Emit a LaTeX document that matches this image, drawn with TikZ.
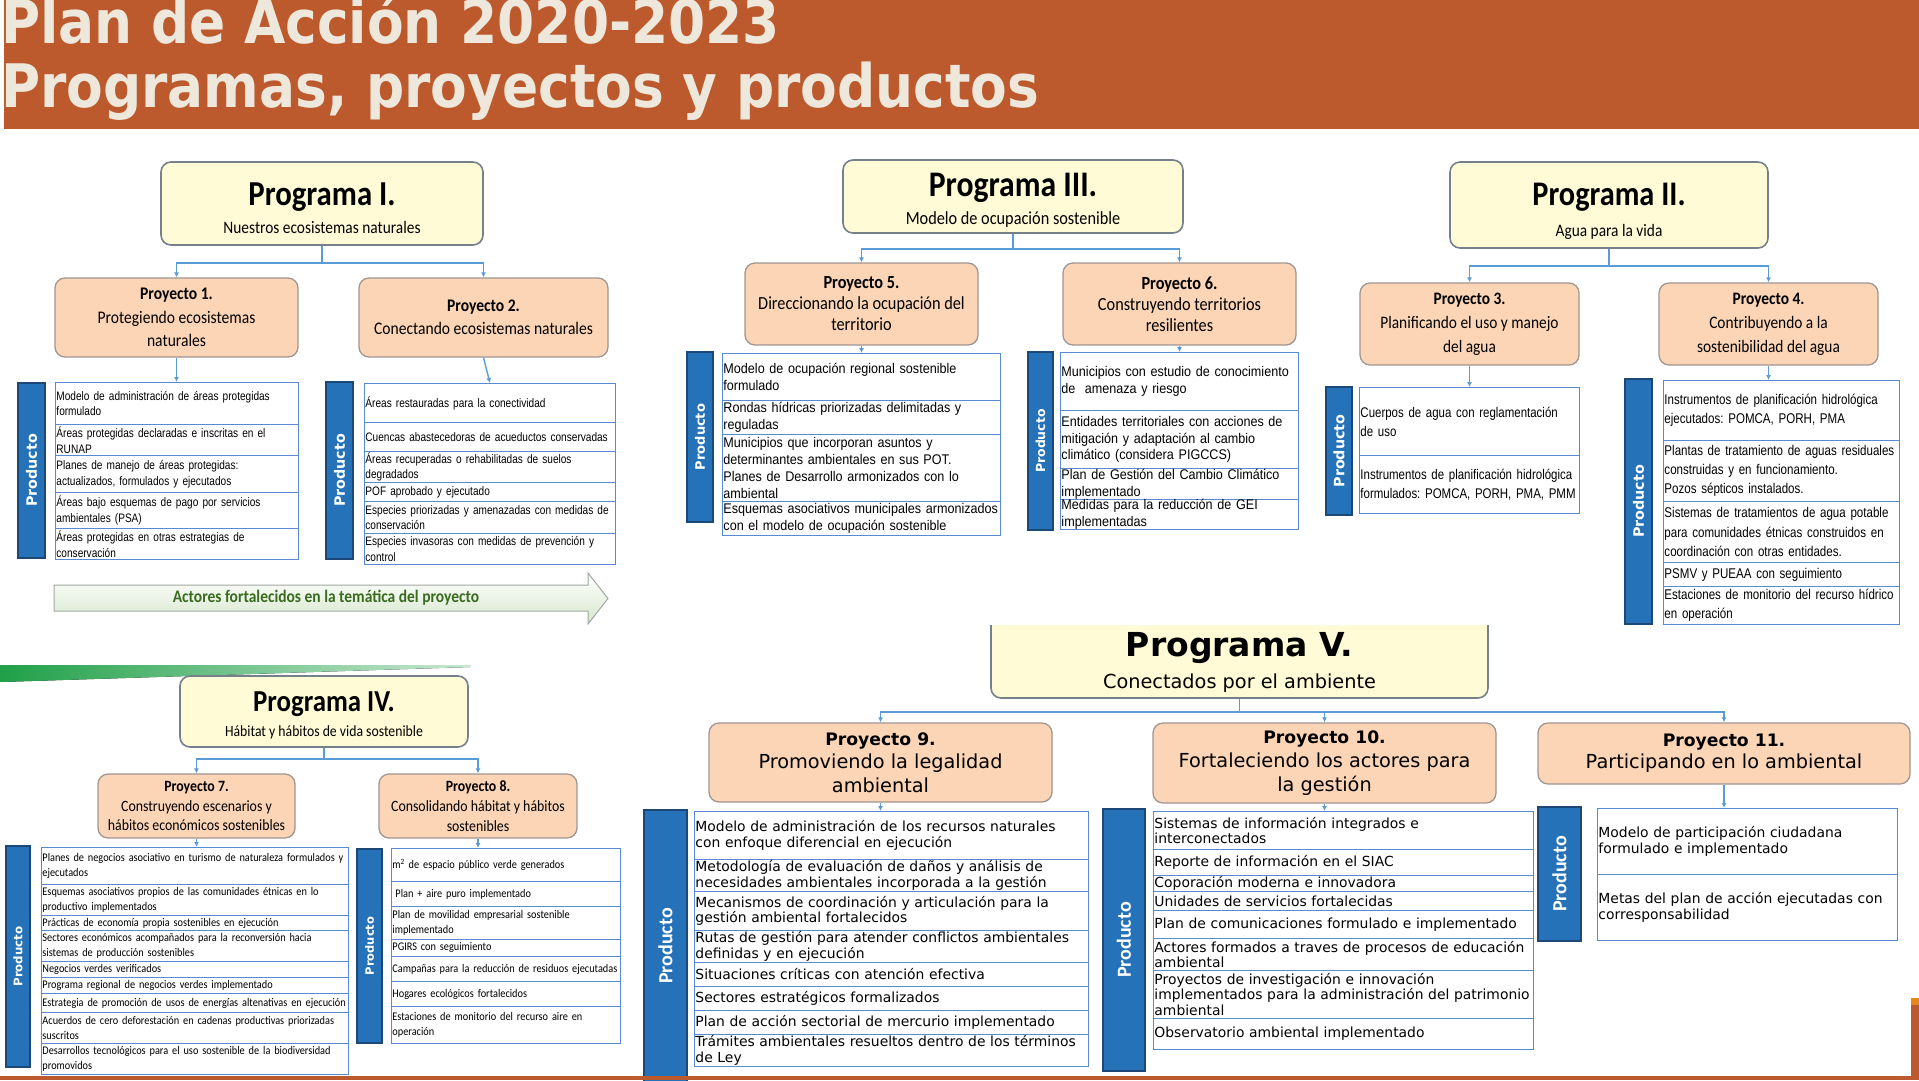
\documentclass[tikz,border=0pt]{standalone}
\usepackage{fontspec}
\usepackage{tikz}
\usetikzlibrary{arrows.meta, positioning}
\definecolor{headerbrown}{RGB}{188,89,45}
\definecolor{headertext}{RGB}{238,232,220}
\definecolor{progfill}{RGB}{255,251,214}
\definecolor{progline}{RGB}{118,128,138}
\definecolor{proyfill}{RGB}{251,213,182}
\definecolor{proyline}{RGB}{160,150,145}
\definecolor{connblue}{RGB}{91,155,213}
\definecolor{rowline}{RGB}{88,138,212}
\definecolor{barblue}{RGB}{38,114,184}
\definecolor{barline}{RGB}{28,72,120}
\definecolor{bannergreen}{RGB}{214,231,204}
\definecolor{bannerline}{RGB}{160,168,160}
\definecolor{bannertext}{RGB}{58,108,32}
\definecolor{wedgegreen}{RGB}{32,160,72}
\definecolor{barorange}{RGB}{230,135,30}
\newfontfamily\titlefont{DejaVu Sans}[FakeStretch=0.89]
\newfontfamily\calib{Carlito}[FakeStretch=0.88]
\newfontfamily\calibw{Carlito}
\newfontfamily\narrowf{Liberation Sans}[FakeStretch=0.82, WordSpace=0.85]
\newfontfamily\arialf{Liberation Sans}[FakeStretch=0.9]
\newfontfamily\verdf{DejaVu Sans}

\begin{document}
\frenchspacing
\begin{tikzpicture}[x=1pt, y=-1pt,
    progbox/.style={draw=progline, line width=1.6pt, fill=progfill, rounded corners=10pt, inner sep=0pt},
    proybox/.style={draw=proyline, line width=1.3pt, fill=proyfill, rounded corners=10pt, align=center, inner sep=0pt},
    prodbar/.style={draw=barline, line width=1.2pt, fill=barblue, text=white, rotate=90, inner sep=0pt, font=\verdf\bfseries\fontsize{14.3}{16}\selectfont},
    prod/.style={draw=rowline, line width=0.9pt, anchor=north west, inner xsep=1pt, inner ysep=0pt, align=left},
    t1/.style={prod, text width=241pt, font=\narrowf\fontsize{12.3}{15.7}\selectfont},
    t2/.style={prod, text width=249pt, font=\narrowf\fontsize{12.3}{15.7}\selectfont},
    t3/.style={prod, text width=218pt, font=\narrowf\fontsize{14}{19}\selectfont},
    t4/.style={prod, text width=234pt, font=\narrowf\fontsize{14.1}{19.3}\selectfont},
    t5/.style={prod, text width=276pt, font=\arialf\fontsize{14}{16.7}\selectfont},
    t6/.style={prod, text width=236pt, font=\arialf\fontsize{14}{16.7}\selectfont},
    t7/.style={prod, text width=305pt, font=\calib\fontsize{11.7}{15}\selectfont},
    t8/.style={prod, text width=227pt, font=\calib\fontsize{11.7}{15}\selectfont},
    t9/.style={prod, text width=392pt, font=\verdf\fontsize{13.9}{15.7}\selectfont},
    t10/.style={prod, text width=378pt, font=\verdf\fontsize{13.9}{15.7}\selectfont},
    t11/.style={prod, text width=298pt, font=\verdf\fontsize{13.9}{15.7}\selectfont},
    conn/.style={draw=connblue, line width=1.4pt},
    arr/.style={conn, -{Latex[length=5pt, width=5pt]}}]
\useasboundingbox (0,0) rectangle (1919,1080);

% header
\fill[headerbrown] (4,0) rectangle (1919,128.5);
\node[anchor=base west, inner sep=0pt, text=headertext, font=\titlefont\bfseries\fontsize{60}{60}\selectfont] (title1) at (1,43) {Plan de Acción 2020-2023};
\node[anchor=base west, inner sep=0pt, text=headertext, font=\titlefont\bfseries\fontsize{60}{60}\selectfont] (title2) at (1,107.7) {Programas, proyectos y productos};

% Programa I
\node[progbox, minimum width=322pt, minimum height=83pt] (prog1) at (322,203.5) {};
\node[anchor=base, inner sep=0pt, font=\calib\bfseries\fontsize{35}{35}\selectfont] (prog1t) at (322,205) {Programa I.};
\node[anchor=base, inner sep=0pt, font=\calib\fontsize{17.5}{20}\selectfont] (prog1s) at (322,233) {Nuestros ecosistemas naturales};
\node[proybox, minimum width=243pt, minimum height=79pt, font=\calib\fontsize{17.7}{23.3}\selectfont] (proy1) at (176.5,317.5) {\textbf{Proyecto 1.}\\Protegiendo ecosistemas\\naturales};
\node[proybox, minimum width=249pt, minimum height=79pt, font=\calib\fontsize{17.7}{23.3}\selectfont] (proy2) at (483.5,317.5) {\textbf{Proyecto 2.}\\Conectando ecosistemas naturales};
\node[prodbar, minimum width=175pt, minimum height=27pt] (bar1) at (31.5,470.5) {Producto};
\node[t1, minimum height=42pt] (p1a) at (55,382) {Modelo de administración de áreas protegidas\\formulado};
\node[t1, minimum height=31pt] (p1b) at (55,424) {Áreas protegidas declaradas e inscritas en el\\RUNAP};
\node[t1, minimum height=37pt] (p1c) at (55,455) {Planes de manejo de áreas protegidas:\\actualizados, formulados y ejecutados};
\node[t1, minimum height=36pt] (p1d) at (55,492) {Áreas bajo esquemas de pago por servicios\\ambientales (PSA)};
\node[t1, minimum height=31pt] (p1e) at (55,528) {Áreas protegidas en otras estrategias de\\conservación};
\node[prodbar, minimum width=177pt, minimum height=27pt] (bar2) at (339.5,470.5) {Producto};
\node[t2, minimum height=39pt] (p2a) at (364,383) {Áreas restauradas para la conectividad};
\node[t2, minimum height=29pt] (p2b) at (364,422) {Cuencas abastecedoras de acueductos conservadas};
\node[t2, minimum height=31pt] (p2c) at (364,451) {Áreas recuperadas o rehabilitadas de suelos\\degradados};
\node[t2, minimum height=19pt] (p2d) at (364,482) {POF aprobado y ejecutado};
\node[t2, minimum height=32pt] (p2e) at (364,501) {Especies priorizadas y amenazadas con medidas de\\conservación};
\node[t2, minimum height=31pt] (p2f) at (364,533) {Especies invasoras con medidas de prevención y\\control};
\draw[conn] (prog1.south) -- ++(0,17) coordinate (j1);
\draw[arr] (j1) -| (proy1.north);
\draw[arr] (j1) -| (proy2.north);
\draw[arr] (proy1.south) -- (proy1.south |- p1a.north);
\draw[arr] (proy2.south) -- (p2a.north);
\draw[draw=bannerline, line width=1pt, top color=white, bottom color=bannergreen] (54,585) -- (588,585) -- (588,573) -- (608,598.5) -- (588,624) -- (588,611) -- (54,611) -- cycle;
\node[inner sep=0pt, text=bannertext, font=\calib\bfseries\fontsize{17.6}{20}\selectfont] (actores) at (326,598) {Actores fortalecidos en la temática del proyecto};

% Programa III
\node[progbox, minimum width=340pt, minimum height=73pt] (prog3) at (1013,196.5) {};
\node[anchor=base, inner sep=0pt, font=\calib\bfseries\fontsize{36}{36}\selectfont] (prog3t) at (1013,196.7) {Programa III.};
\node[anchor=base, inner sep=0pt, font=\calib\fontsize{18.5}{20}\selectfont] (prog3s) at (1013,224) {Modelo de ocupación sostenible};
\node[proybox, minimum width=233pt, minimum height=82pt, font=\calib\fontsize{18.5}{21}\selectfont] (proy5) at (861.5,304) {\textbf{Proyecto 5.}\\Direccionando la ocupación del\\territorio};
\node[proybox, minimum width=233pt, minimum height=82pt, font=\calib\fontsize{18.5}{21}\selectfont] (proy6) at (1179.5,304) {\textbf{Proyecto 6.}\\Construyendo territorios\\resilientes};
\node[prodbar, minimum width=170pt, minimum height=26pt, font=\verdf\bfseries\fontsize{13}{15}\selectfont] (bar3) at (700,437) {Producto};
\node[t5, minimum height=47pt] (p5a) at (722,353) {Modelo de ocupación regional sostenible\\formulado};
\node[t5, minimum height=34pt] (p5b) at (722,400) {Rondas hídricas priorizadas delimitadas y\\reguladas};
\node[t5, minimum height=67pt] (p5c) at (722,434) {Municipios que incorporan asuntos y\\determinantes ambientales en sus POT.\\Planes de Desarrollo armonizados con lo\\ambiental};
\node[t5, minimum height=34pt] (p5d) at (722,501) {Esquemas asociativos municipales armonizados\\con el modelo de ocupación sostenible};
\node[prodbar, minimum width=178pt, minimum height=25pt, font=\verdf\bfseries\fontsize{12.5}{15}\selectfont] (bar4) at (1040.5,441) {Producto};
\node[t6, minimum height=58pt] (p6a) at (1060,352) {Municipios con estudio de conocimiento\\de\ \ amenaza y riesgo};
\node[t6, minimum height=58pt] (p6b) at (1060,410) {Entidades territoriales con acciones de\\mitigación y adaptación al cambio\\climático (considera PIGCCS)};
\node[t6, minimum height=31pt] (p6c) at (1060,468) {Plan de Gestión del Cambio Climático\\implementado};
\node[t6, minimum height=29pt] (p6d) at (1060,499) {Medidas para la reducción de GEI\\implementadas};
\draw[conn] (prog3.south) -- ++(0,15) coordinate (j3);
\draw[arr] (j3) -| (proy5.north);
\draw[arr] (j3) -| (proy6.north);
\draw[arr] (proy5.south) -- (proy5.south |- p5a.north);
\draw[arr] (proy6.south) -- (proy6.south |- p6a.north);

% Programa II
\node[progbox, minimum width=318pt, minimum height=86pt] (prog2) at (1609,205) {};
\node[anchor=base, inner sep=0pt, font=\calib\bfseries\fontsize{34.5}{35}\selectfont] (prog2t) at (1609,205) {Programa II.};
\node[anchor=base, inner sep=0pt, font=\calib\fontsize{17.5}{20}\selectfont] (prog2s) at (1609,236) {Agua para la vida};
\node[proybox, minimum width=219pt, minimum height=82pt, font=\calib\fontsize{17.5}{24}\selectfont] (proy3) at (1469.5,324) {\textbf{Proyecto 3.}\\Planificando el uso y manejo\\del agua};
\node[proybox, minimum width=219pt, minimum height=82pt, font=\calib\fontsize{17.5}{24}\selectfont] (proy4) at (1768.5,324) {\textbf{Proyecto 4.}\\Contribuyendo a la\\sostenibilidad del agua};
\node[prodbar, minimum width=128pt, minimum height=26pt] (bar5) at (1339,451) {Producto};
\node[t3, minimum height=68pt] (p3a) at (1359,387) {Cuerpos de agua con reglamentación\\de uso};
\node[t3, minimum height=58pt] (p3b) at (1359,455) {Instrumentos de planificación hidrológica\\formulados: POMCA, PORH, PMA, PMM};
\node[prodbar, minimum width=245pt, minimum height=27pt] (bar6) at (1638.5,501.5) {Producto};
\node[t4, minimum height=60pt] (p4a) at (1663,380) {Instrumentos de planificación hidrológica\\ejecutados: POMCA, PORH, PMA};
\node[t4, minimum height=61pt] (p4b) at (1663,440) {Plantas de tratamiento de aguas residuales\\construidas y en funcionamiento.\\Pozos sépticos instalados.};
\node[t4, minimum height=61pt] (p4c) at (1663,501) {Sistemas de tratamientos de agua potable\\para comunidades étnicas construidos en\\coordinación con otras entidades.};
\node[t4, minimum height=24pt] (p4d) at (1663,562) {PSMV y PUEAA con seguimiento};
\node[t4, minimum height=38pt] (p4e) at (1663,586) {Estaciones de monitorio del recurso hídrico\\en operación};
\draw[conn] (prog2.south) -- ++(0,17) coordinate (j2);
\draw[arr] (j2) -| (proy3.north);
\draw[arr] (j2) -| (proy4.north);
\draw[arr] (proy3.south) -- (proy3.south |- p3a.north);
\draw[arr] (proy4.south) -- (proy4.south |- p4a.north);

% Programa IV
\fill[left color=wedgegreen, right color=wedgegreen!25!white] (0,665) -- (470,665) -- (470,667) -- (0,682) -- cycle;
\node[progbox, minimum width=288pt, minimum height=71pt] (prog4) at (324,711.5) {};
\node[anchor=base, inner sep=0pt, font=\calib\bfseries\fontsize{30.5}{31}\selectfont] (prog4t) at (324,711.7) {Programa IV.};
\node[anchor=base, inner sep=0pt, font=\calib\fontsize{15.6}{18}\selectfont] (prog4s) at (324,736) {Hábitat y hábitos de vida sostenible};
\node[proybox, minimum width=197pt, minimum height=64pt, font=\calib\fontsize{15.7}{19.7}\selectfont] (proy7) at (196.5,806) {\textbf{Proyecto 7.}\\Construyendo escenarios y\\hábitos económicos sostenibles};
\node[proybox, minimum width=198pt, minimum height=64pt, font=\calib\fontsize{15.7}{19.7}\selectfont] (proy8) at (478,806) {\textbf{Proyecto 8.}\\Consolidando hábitat y hábitos\\sostenibles};
\node[prodbar, minimum width=221pt, minimum height=24pt, font=\verdf\bfseries\fontsize{11.8}{14}\selectfont] (bar7) at (18,956.5) {Producto};
\node[t7, minimum height=37pt] (p7a) at (41,847) {Planes de negocios asociativo en turismo de naturaleza formulados y\\ejecutados};
\node[t7, minimum height=31pt] (p7b) at (41,884) {Esquemas asociativos propios de las comunidades étnicas en lo\\productivo implementados};
\node[t7, minimum height=15pt] (p7c) at (41,915) {Prácticas de economía propia sostenibles en ejecución};
\node[t7, minimum height=31pt] (p7d) at (41,930) {Sectores económicos acompañados para la reconversión hacia\\sistemas de producción sostenibles};
\node[t7, minimum height=16pt] (p7e) at (41,961) {Negocios verdes verificados};
\node[t7, minimum height=16pt] (p7f) at (41,977) {Programa regional de negocios verdes implementado};
\node[t7, minimum height=19pt] (p7g) at (41,993) {Estrategia de promoción de usos de energías altenativas en ejecución};
\node[t7, minimum height=31pt] (p7h) at (41,1012) {Acuerdos de cero deforestación en cadenas productivas priorizadas\\suscritos};
\node[t7, minimum height=31pt] (p7i) at (41,1043) {Desarrollos tecnológicos para el uso sostenible de la biodiversidad\\promovidos};
\node[prodbar, minimum width=194pt, minimum height=25pt, font=\verdf\bfseries\fontsize{11.5}{14}\selectfont] (bar8) at (369.5,946) {Producto};
\node[t8, minimum height=33pt] (p8a) at (391,848) {m\textsuperscript{2} de espacio público verde generados};
\node[t8, minimum height=25pt] (p8b) at (391,881) {\hspace*{3pt}Plan + aire puro implementado};
\node[t8, minimum height=33pt] (p8c) at (391,906) {Plan de movilidad empresarial sostenible\\implementado};
\node[t8, minimum height=17pt] (p8d) at (391,939) {PGIRS con seguimiento};
\node[t8, minimum height=25pt] (p8e) at (391,956) {Campañas para la reducción de residuos ejecutadas};
\node[t8, minimum height=25pt] (p8f) at (391,981) {Hogares ecológicos fortalecidos};
\node[t8, minimum height=37pt] (p8g) at (391,1006) {Estaciones de monitorio del recurso aire en\\operación};
\draw[conn] (prog4.south) -- ++(0,11) coordinate (j4);
\draw[arr] (j4) -| (proy7.north);
\draw[arr] (j4) -| (proy8.north);
\draw[arr] (proy7.south) -- (proy7.south |- p7a.north);
\draw[arr] (proy8.south) -- (proy8.south |- p8a.north);

% Programa V
\begin{scope}
  \clip (900,625) rectangle (1600,720);
  \node[progbox, minimum width=497pt, minimum height=98pt] (prog5) at (1239.5,649) {};
\end{scope}
\node[anchor=base, inner sep=0pt, font=\verdf\bfseries\fontsize{33}{33}\selectfont] (prog5t) at (1239.5,656.7) {Programa V.};
\node[anchor=base, inner sep=0pt, font=\verdf\fontsize{19.3}{22}\selectfont] (prog5s) at (1239.5,688.3) {Conectados por el ambiente};
\node[proybox, minimum width=343pt, minimum height=79pt, font=\verdf\fontsize{19.3}{23.7}\selectfont] (proy9) at (880.5,762.5) {{\fontsize{17.2}{23.7}\selectfont\bfseries Proyecto 9.}\\Promoviendo la legalidad\\ambiental};
\node[proybox, minimum width=343pt, minimum height=80pt, font=\verdf\fontsize{19.3}{23.7}\selectfont] (proy10) at (1324.5,763) {{\fontsize{17.2}{23.7}\selectfont\bfseries Proyecto 10.}\\Fortaleciendo los actores para\\la gestión};
\node[proybox, minimum width=372pt, minimum height=61pt, font=\verdf\fontsize{19.3}{22.4}\selectfont] (proy11) at (1724,753.5) {{\fontsize{17.2}{22.4}\selectfont\bfseries Proyecto 11.}\\Participando en lo ambiental};
\node[prodbar, minimum width=272pt, minimum height=43pt, font=\calibw\bfseries\fontsize{20}{22}\selectfont] (bar9) at (665.5,946) {Producto};
\node[t9, minimum height=48pt] (p9a) at (694,811) {Modelo de administración de los recursos naturales\\con enfoque diferencial en ejecución};
\node[t9, minimum height=32pt] (p9b) at (694,859) {Metodología de evaluación de daños y análisis de\\necesidades ambientales incorporada a la gestión};
\node[t9, minimum height=39pt] (p9c) at (694,891) {Mecanismos de coordinación y articulación para la\\gestión ambiental fortalecidos};
\node[t9, minimum height=32pt] (p9d) at (694,930) {Rutas de gestión para atender conflictos ambientales\\definidas y en ejecución};
\node[t9, minimum height=24pt] (p9e) at (694,962) {Situaciones críticas con atención efectiva};
\node[t9, minimum height=24pt] (p9f) at (694,986) {Sectores estratégicos formalizados};
\node[t9, minimum height=24pt] (p9g) at (694,1010) {Plan de acción sectorial de mercurio implementado};
\node[t9, minimum height=32pt] (p9h) at (694,1034) {Trámites ambientales resueltos dentro de los términos\\de Ley};
\node[prodbar, minimum width=262pt, minimum height=42pt, font=\calibw\bfseries\fontsize{20}{22}\selectfont] (bar10) at (1124,940) {Producto};
\node[t10, minimum height=38pt] (p10a) at (1153,811) {Sistemas de información integrados e\\interconectados};
\node[t10, minimum height=26pt] (p10b) at (1153,849) {Reporte de información en el SIAC};
\node[t10, minimum height=16pt] (p10c) at (1153,875) {Coporación moderna e innovadora};
\node[t10, minimum height=19pt] (p10d) at (1153,891) {Unidades de servicios fortalecidas};
\node[t10, minimum height=28pt] (p10e) at (1153,910) {Plan de comunicaciones formulado e implementado};
\node[t10, minimum height=32pt] (p10f) at (1153,938) {Actores formados a traves de procesos de educación\\ambiental};
\node[t10, minimum height=48pt] (p10g) at (1153,970) {Proyectos de investigación e innovación\\implementados para la administración del patrimonio\\ambiental};
\node[t10, minimum height=31pt] (p10h) at (1153,1018) {Observatorio ambiental implementado};
\node[prodbar, minimum width=134pt, minimum height=43pt, font=\calibw\bfseries\fontsize{20}{22}\selectfont] (bar11) at (1559.5,874) {Producto};
\node[t11, minimum height=66pt] (p11a) at (1597,808) {Modelo de participación ciudadana\\formulado e implementado};
\node[t11, minimum height=66pt] (p11b) at (1597,874) {Metas del plan de acción ejecutadas con\\corresponsabilidad};
\draw[conn] (prog5.south) -- ++(0,13) coordinate (j5);
\draw[arr] (j5) -| (proy9.north);
\draw[arr] (j5) -| (proy10.north);
\draw[arr] (j5) -| (proy11.north);
\draw[arr] (proy9.south) -- (proy9.south |- p9a.north);
\draw[arr] (proy10.south) -- (proy10.south |- p10a.north);
\draw[arr] (proy11.south) -- (proy11.south |- p11a.north);

% footer
\fill[headerbrown] (0,1076) rectangle (1919,1080);
\fill[headerbrown] (1911,998) rectangle (1919,1080);
\fill[barorange] (1911,998) rectangle (1919,1005);
\end{tikzpicture}
\end{document}
